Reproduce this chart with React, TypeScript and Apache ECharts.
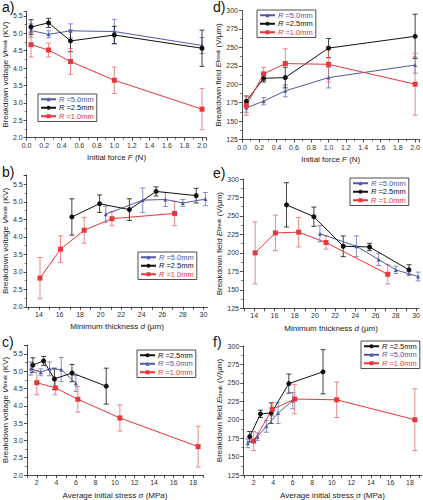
import React, { useEffect, useRef } from "react";
import * as echarts from "echarts";

// ---- data ----
const forceF = [0.05, 0.25, 0.5, 1.0, 2.0];

const vBlue = [5.08, 4.97, 5.07, 5.05, 4.65];
const vBlueErr = [0.19, 0.1, 0.2, 0.35, 0.23];
const vBlack = [5.18, 5.3, 4.78, 4.95, 4.57];
const vBlackErr = [0.21, 0.13, 0.31, 0.25, 0.52];
const vRed = [4.67, 4.52, 4.19, 3.65, 2.82];
const vRedErr = [0.35, 0.2, 0.37, 0.38, 0.59];

const eBlue = [168, 177, 191, 209, 226];
const eBlueErr = [6, 5, 8, 14, 11];
const eBlack = [177, 208, 209, 249, 265];
const eBlackErr = [7, 5, 14, 13, 30];
const eRed = [171, 214, 228, 227, 200];
const eRedErr = [13, 9, 20, 24, 42];

const dBlue = [30.2, 28.0, 26.3, 24.1, 20.5];
const dBlack = [29.3, 25.4, 22.8, 19.9, 17.2];
const dRed = [27.2, 21.1, 18.4, 16.1, 14.1];

const sBlue = [1.4, 2.4, 3.3, 4.5, 6.0];
const sBlack = [1.6, 2.7, 3.8, 5.6, 9.1];
const sRed = [2.0, 3.9, 6.2, 10.5, 18.5];

const thickTicks = [14, 16, 18, 20, 22, 24, 26, 28, 30];
const thickMinor = [13, 14, 15, 16, 17, 18, 19, 20, 21, 22, 23, 24, 25, 26, 27, 28, 29, 30];
const stressTicks = [2, 4, 6, 8, 10, 12, 14, 16, 18];
const stressMinor = [1, 2, 3, 4, 5, 6, 7, 8, 9, 10, 11, 12, 13, 14, 15, 16, 17, 18, 19];

const nameBlue = "R =5.0mm";
const nameBlack = "R =2.5mm";
const nameRed = "R =1.0mm";

const FONT = "Liberation Sans, Arial, sans-serif";
const C_BLUE = "#4f5aa8";
const C_BLACK = "#111111";
const C_RED = "#e5383b";
const C_RED_ERR = "#e46a6c";
const C_BLUE_ERR = "#6a74bb";

type Panel = {
  grid: { left: number; top: number; width: number; height: number };
  xAxis: any;
  yAxis: any;
  xs: number[][]; // blue, black, red
  ys: number[][];
  errs: number[][];
  legend: { left: number; top: number; order: string[] };
  label: { text: string; x: number; y: number };
};

const vTitle = "Breakdown voltage {i|V}{s|break} (KV)";
const eTitle = "Breakdown field {i|E}{s|break} (V/\u00b5m)";

const baseAxis = {
  axisLine: { lineStyle: { color: "#222", width: 0.8 } },
  axisTick: { show: true, inside: false, length: 3, lineStyle: { color: "#222", width: 0.8 } },
  splitLine: { show: false },
  axisLabel: { fontSize: 7, color: "#333", fontFamily: FONT, margin: 4 },
  nameTextStyle: {
    fontSize: 8,
    color: "#222",
    fontFamily: FONT,
    rich: {
      i: { fontStyle: "italic", fontSize: 8, fontFamily: FONT, color: "#222" },
      s: { fontSize: 5, fontFamily: FONT, color: "#222" },
    },
  },
};

function xForce() {
  return {
    ...baseAxis,
    min: 0,
    max: 2.05,
    interval: 0.2,
    minorTick: { show: true, splitNumber: 2, length: 2, lineStyle: { color: "#222", width: 0.6 } },
    axisLabel: { ...baseAxis.axisLabel, formatter: (v: number) => (v > 2.01 ? "" : v.toFixed(1)) },
    name: "Initial force {i|F} (N)",
    nameLocation: "middle",
    nameGap: 16,
  };
}
function xCustom(min: number, max: number, ticks: number[], minor: number[], name: string) {
  return {
    ...baseAxis,
    min,
    max,
    axisTick: { ...baseAxis.axisTick, customValues: minor },
    axisLabel: { ...baseAxis.axisLabel, customValues: ticks },
    name,
    nameLocation: "middle",
    nameGap: 16,
  };
}
function yVolt(max: number) {
  return {
    ...baseAxis,
    min: 2,
    max,
    interval: 0.5,
    minorTick: { show: true, splitNumber: 2, length: 2, lineStyle: { color: "#222", width: 0.6 } },
    axisLabel: { ...baseAxis.axisLabel, formatter: (v: number) => (v > 5.51 ? "" : v.toFixed(1)) },
    name: vTitle,
    nameLocation: "middle",
    nameGap: 16,
  };
}
function yField() {
  return {
    ...baseAxis,
    min: 125,
    max: 300,
    interval: 25,
    minorTick: { show: true, splitNumber: 2, length: 2, lineStyle: { color: "#222", width: 0.6 } },
    name: eTitle,
    nameLocation: "middle",
    nameGap: 18,
  };
}

const orderBRK = [nameBlue, nameBlack, nameRed];
const orderKBR = [nameBlack, nameBlue, nameRed];

const panels: Panel[] = [
  {
    grid: { left: 26, top: 11.7, width: 180.4, height: 126 },
    xAxis: xForce(),
    yAxis: yVolt(5.62),
    xs: [forceF, forceF, forceF],
    ys: [vBlue, vBlack, vRed],
    errs: [vBlueErr, vBlackErr, vRedErr],
    legend: { left: 38, top: 94, order: orderBRK },
    label: { text: "a)", x: 2, y: 0 },
  },
  {
    grid: { left: 26, top: 175, width: 181.5, height: 131.8 },
    xAxis: xCustom(12.8, 30.4, thickTicks, thickMinor, "Minimum thickness {i|d} (\u00b5m)"),
    yAxis: yVolt(5.77),
    xs: [dBlue, dBlack, dRed],
    ys: [vBlue, vBlack, vRed],
    errs: [vBlueErr, vBlackErr, vRedErr],
    legend: { left: 138, top: 252, order: orderBRK },
    label: { text: "b)", x: 2, y: 165 },
  },
  {
    grid: { left: 27, top: 345, width: 176, height: 131 },
    xAxis: xCustom(1, 19, stressTicks, stressMinor, "Average initial stress \u03c3 (MPa)"),
    yAxis: yVolt(5.76),
    xs: [sBlue, sBlack, sRed],
    ys: [vBlue, vBlack, vRed],
    errs: [vBlueErr, vBlackErr, vRedErr],
    legend: { left: 137, top: 350, order: orderKBR },
    label: { text: "c)", x: 2, y: 335 },
  },
  {
    grid: { left: 242, top: 10.5, width: 179.4, height: 129 },
    xAxis: xForce(),
    yAxis: yField(),
    xs: [forceF, forceF, forceF],
    ys: [eBlue, eBlack, eRed],
    errs: [eBlueErr, eBlackErr, eRedErr],
    legend: { left: 257, top: 10, order: orderBRK },
    label: { text: "d)", x: 213, y: 0 },
  },
  {
    grid: { left: 243, top: 179, width: 180, height: 129.3 },
    xAxis: xCustom(12.9, 30.3, thickTicks, thickMinor, "Minimum thickness {i|d} (\u00b5m)"),
    yAxis: yField(),
    xs: [dBlue, dBlack, dRed],
    ys: [eBlue, eBlack, eRed],
    errs: [eBlueErr, eBlackErr, eRedErr],
    legend: { left: 350, top: 178, order: orderBRK },
    label: { text: "e)", x: 213, y: 166 },
  },
  {
    grid: { left: 243.3, top: 346, width: 178.4, height: 130.7 },
    xAxis: xCustom(0.94, 19.2, stressTicks, stressMinor, "Average initial stress \u03c3 (MPa)"),
    yAxis: yField(),
    xs: [sBlue, sBlack, sRed],
    ys: [eBlue, eBlack, eRed],
    errs: [eBlueErr, eBlackErr, eRedErr],
    legend: { left: 361, top: 341, order: orderKBR },
    label: { text: "f)", x: 213, y: 335 },
  },
];

const groups = [
  { name: nameBlue, color: C_BLUE, err: C_BLUE_ERR, symbol: "triangle", size: 4 },
  { name: nameBlack, color: C_BLACK, err: C_BLACK, symbol: "circle", size: 5 },
  { name: nameRed, color: C_RED, err: C_RED_ERR, symbol: "rect", size: 5 },
];
const colorOf: Record<string, string> = {
  [nameBlue]: C_BLUE,
  [nameBlack]: C_BLACK,
  [nameRed]: C_RED,
};

function buildOption() {
  const grid: any[] = [];
  const xAxis: any[] = [];
  const yAxis: any[] = [];
  const series: any[] = [];
  const legend: any[] = [];
  const graphic: any[] = [];

  panels.forEach((p, i) => {
    grid.push({ ...p.grid, containLabel: false });
    xAxis.push({ type: "value", gridIndex: i, ...p.xAxis });
    yAxis.push({ type: "value", gridIndex: i, ...p.yAxis });
    groups.forEach((g, k) => {
      const xs = p.xs[k];
      const ys = p.ys[k];
      const es = p.errs[k];
      series.push({
        type: "custom",
        name: g.name + " err",
        xAxisIndex: i,
        yAxisIndex: i,
        silent: true,
        z: 1,
        encode: { x: 0, y: [1, 2] },
        data: xs.map((x, j) => [x, ys[j] - es[j], ys[j] + es[j]]),
        renderItem: (params: any, api: any) => {
          const x = api.value(0);
          const p1 = api.coord([x, api.value(1)]);
          const p2 = api.coord([x, api.value(2)]);
          const w = 2.5;
          const style = { stroke: g.err, lineWidth: 0.8 };
          return {
            type: "group",
            children: [
              { type: "line", shape: { x1: p1[0], y1: p1[1], x2: p2[0], y2: p2[1] }, style },
              { type: "line", shape: { x1: p1[0] - w, y1: p1[1], x2: p1[0] + w, y2: p1[1] }, style },
              { type: "line", shape: { x1: p2[0] - w, y1: p2[1], x2: p2[0] + w, y2: p2[1] }, style },
            ],
          };
        },
      });
      series.push({
        type: "line",
        name: g.name,
        xAxisIndex: i,
        yAxisIndex: i,
        z: 3,
        data: xs.map((x, j) => [x, ys[j]]),
        symbol: g.symbol,
        symbolSize: g.size,
        showSymbol: true,
        lineStyle: { color: g.color, width: 1 },
        itemStyle: { color: g.color },
      });
    });
    legend.push({
      left: p.legend.left,
      top: p.legend.top,
      orient: "vertical",
      backgroundColor: "#fff",
      borderColor: "#222",
      borderWidth: 0.8,
      borderRadius: 0,
      padding: [1, 3, 1, 2],
      itemGap: 0,
      itemWidth: 15,
      itemHeight: 5,
      selectedMode: false,
      data: p.legend.order.map((n) => ({ name: n, textStyle: { color: colorOf[n] } })),
      formatter: (n: string) => "{i|R}" + n.slice(1),
      textStyle: {
        fontSize: 7.5,
        fontFamily: FONT,
        lineHeight: 8.5,
        padding: [0, 0, 0, -2],
        rich: { i: { fontStyle: "italic", fontSize: 7.5, fontFamily: FONT } },
      },
    });
    graphic.push({
      type: "text",
      left: p.label.x,
      top: p.label.y,
      style: { text: p.label.text, fontSize: 14, fontFamily: FONT, fill: "#111" },
    });
  });

  return {
    animation: false,
    backgroundColor: "#fff",
    grid,
    xAxis,
    yAxis,
    series,
    legend,
    graphic,
  };
}

export default function App() {
  const ref = useRef<HTMLDivElement>(null);
  useEffect(() => {
    if (!ref.current) return;
    const chart = echarts.init(ref.current, undefined, { renderer: "svg" });
    chart.setOption(buildOption() as any);
    return () => chart.dispose();
  }, []);
  return (
    <div
      ref={ref}
      style={{ position: "absolute", left: 0, top: 0, width: 423, height: 500 }}
    />
  );
}
